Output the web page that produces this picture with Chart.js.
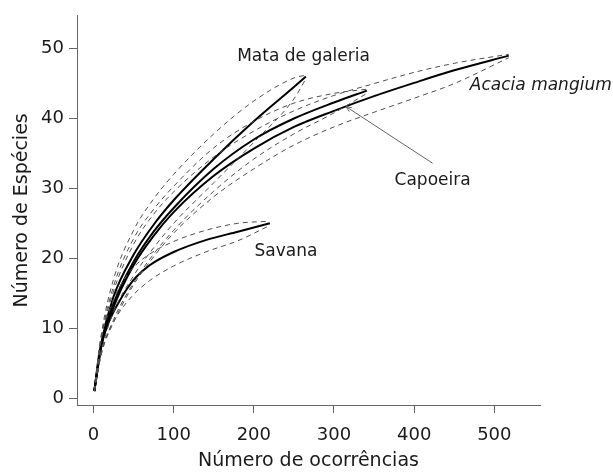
<!DOCTYPE html>
<html>
<head>
<meta charset="utf-8">
<script src="https://cdn.jsdelivr.net/npm/chart.js@4.4.0/dist/chart.umd.min.js"></script>
<style>
  html, body { margin: 0; padding: 0; background: #fff; }
  canvas { display: block; }
</style>
</head>
<body>
<canvas id="chart" width="613" height="472"></canvas>
<script>
// rarefaction curves: sample size (n), mean species, upper / lower band
const mataN = [1, 10, 25, 50, 75, 100, 150, 200, 250, 265];
const mataS = [1, 8, 14.5, 20.5, 24.8, 28.3, 34.2, 39.6, 44.5, 46];
const mataUp = [1, 9.3, 17, 24, 28.5, 32, 37.8, 42.5, 45.8, 46.2];
const mataLo = [1, 6.8, 12.3, 17.5, 21.5, 25, 30.8, 36.6, 42.8, 45.7];

const capN = [1, 10, 25, 50, 75, 100, 150, 200, 250, 300, 341];
const capS = [1, 7.6, 13.5, 19.5, 23.8, 27.2, 32.8, 37, 40, 42.3, 44];
const capUp = [1, 8.8, 16, 22.8, 27, 30.3, 35.8, 39.6, 42.2, 43.6, 44.2];
const capLo = [1, 6.4, 11.2, 16.5, 20.6, 24, 29.6, 34.2, 37.8, 40.8, 43.6];

const acaN = [1, 10, 25, 50, 75, 100, 150, 200, 250, 300, 350, 400, 450, 518];
const acaS = [1, 7.5, 13, 19, 23.2, 26.6, 31.8, 35.7, 38.8, 41.1, 43.2, 45.1, 46.9, 49];
const acaUp = [1, 8.6, 15.3, 22, 26.3, 29.5, 34.5, 38.2, 41.1, 43.3, 45, 46.6, 47.9, 49.2];
const acaLo = [1, 6.4, 10.8, 16.2, 20.2, 23.6, 28.8, 32.8, 36.2, 38.8, 40.9, 42.9, 45, 48.7];

const savN = [1, 8, 20, 33, 50, 70, 100, 140, 180, 220];
const savS = [1, 6.9, 11.1, 14, 16.9, 19, 20.9, 22.6, 23.8, 25];
const savUp = [1, 7.8, 12.6, 16, 18.7, 20.6, 22.4, 24, 25, 25.3];
const savLo = [1, 6, 9.8, 12.4, 14.8, 16.8, 18.9, 20.9, 22.5, 24.7];

const xTicks = [0, 100, 200, 300, 400, 500];
const yTicks = [0, 10, 20, 30, 40, 50];

// text labels in data units [n, S]
const labels = [
  { text: 'Mata de galeria', at: [262, 48.9], italic: false },
  { text: 'Acacia mangium', at: [558, 44.7], italic: true },
  { text: 'Capoeira', at: [423, 31.1], italic: false },
  { text: 'Savana', at: [240, 21], italic: false }
];
const capArrow = { from: [423, 33.6], to: [315, 41.7] };

const pts = (xs, ys) => xs.map((x, i) => ({ x: x, y: ys[i] }));

function dashed(xs, ys) {
  return {
    data: pts(xs, ys),
    borderColor: '#505050',
    borderWidth: 1,
    borderDash: [5, 4],
    pointRadius: 0,
    cubicInterpolationMode: 'monotone',
    fill: false
  };
}
function solid(xs, ys) {
  return {
    data: pts(xs, ys),
    borderColor: '#000',
    borderWidth: 2,
    pointRadius: 0,
    cubicInterpolationMode: 'monotone',
    fill: false
  };
}

const labelPlugin = {
  id: 'labels',
  afterDatasetsDraw(chart) {
    const ctx = chart.ctx;
    const xs = chart.scales.x, ys = chart.scales.y;
    ctx.save();
    ctx.fillStyle = '#1a1a1a';
    ctx.textAlign = 'center';
    ctx.textBaseline = 'middle';
    labels.forEach(l => {
      ctx.font = (l.italic ? 'italic ' : '') + '17px "DejaVu Sans"';
      ctx.fillText(l.text, xs.getPixelForValue(l.at[0]), ys.getPixelForValue(l.at[1]));
    });
    // arrow to the capoeira curve
    const x1 = xs.getPixelForValue(capArrow.from[0]), y1 = ys.getPixelForValue(capArrow.from[1]);
    const x2 = xs.getPixelForValue(capArrow.to[0]), y2 = ys.getPixelForValue(capArrow.to[1]);
    const a = Math.atan2(y2 - y1, x2 - x1);
    ctx.strokeStyle = '#666';
    ctx.lineWidth = 1;
    ctx.beginPath();
    ctx.moveTo(x1, y1);
    ctx.lineTo(x2, y2);
    ctx.moveTo(x2 - 6 * Math.cos(a - 0.4), y2 - 6 * Math.sin(a - 0.4));
    ctx.lineTo(x2, y2);
    ctx.lineTo(x2 - 6 * Math.cos(a + 0.4), y2 - 6 * Math.sin(a + 0.4));
    ctx.stroke();
    ctx.restore();
  }
};

const axisColor = '#666';
const tickFont = { family: 'DejaVu Sans', size: 18 };
const titleFont = { family: 'DejaVu Sans', size: 19 };

new Chart(document.getElementById('chart'), {
  type: 'line',
  data: {
    datasets: [
      dashed(mataN, mataUp), dashed(mataN, mataLo),
      dashed(capN, capUp), dashed(capN, capLo),
      dashed(acaN, acaUp), dashed(acaN, acaLo),
      dashed(savN, savUp), dashed(savN, savLo),
      solid(mataN, mataS), solid(capN, capS), solid(acaN, acaS), solid(savN, savS)
    ]
  },
  options: {
    responsive: false,
    animation: false,
    layout: { padding: { top: 15, right: 73, left: 0, bottom: 0 } },
    plugins: { legend: { display: false }, tooltip: { enabled: false } },
    scales: {
      x: {
        type: 'linear',
        min: -20.6,
        max: 557,
        afterBuildTicks: axis => { axis.ticks = xTicks.map(v => ({ value: v })); },
        afterFit: axis => { axis.height = 67; },
        border: { color: axisColor, width: 1 },
        grid: { drawOnChartArea: false, drawTicks: true, tickLength: 8, color: axisColor },
        ticks: { font: tickFont, color: '#1a1a1a', padding: 12, maxRotation: 0 },
        title: { display: true, text: 'Número de ocorrências', font: titleFont, color: '#1a1a1a', padding: 0 }
      },
      y: {
        min: -1,
        max: 54.7,
        afterBuildTicks: axis => { axis.ticks = yTicks.map(v => ({ value: v })); },
        afterFit: axis => { axis.width = 77; },
        border: { color: axisColor, width: 1 },
        grid: { drawOnChartArea: false, drawTicks: true, tickLength: 8, color: axisColor },
        ticks: { font: tickFont, color: '#1a1a1a', padding: 5 },
        title: { display: true, text: 'Número de Espécies', font: titleFont, color: '#1a1a1a', padding: { top: 11, bottom: 0 } }
      }
    }
  },
  plugins: [labelPlugin]
});
</script>
</body>
</html>
